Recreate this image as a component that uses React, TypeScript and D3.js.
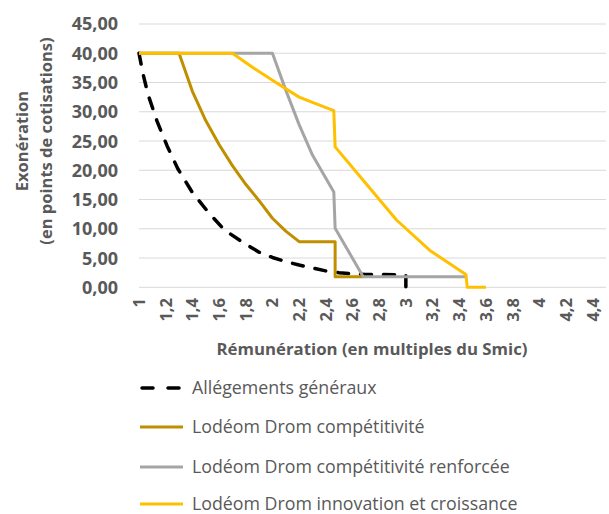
import React from "react";
import * as d3 from "d3";

// Salary in multiples of the Smic (x) and exemption in contribution points (y)
const generalX = [1.0, 1.03, 1.067, 1.135, 1.21, 1.29, 1.4, 1.52, 1.64, 1.77, 1.9, 2.0, 2.1, 2.2, 2.3, 2.4, 2.5, 2.6, 2.7, 2.8, 3.0, 3.0];
const generalY = [40, 36.5, 33.0, 28.4, 24.2, 20.3, 16.2, 12.8, 9.8, 7.8, 6.0, 5.1, 4.4, 3.8, 3.3, 2.8, 2.5, 2.3, 2.2, 2.2, 2.1, 0];

const competX = [1.0, 1.3, 1.4, 1.5, 1.6, 1.7, 1.8, 1.9, 2.0, 2.1, 2.2, 2.47, 2.47, 2.68];
const competY = [40, 40, 33.5, 28.5, 24.4, 20.8, 17.6, 14.8, 11.8, 9.6, 7.8, 7.8, 1.8, 1.8];

const renforceeX = [1.0, 2.0, 2.1, 2.2, 2.3, 2.46, 2.47, 2.68, 3.46];
const renforceeY = [40, 40, 33.7, 27.8, 22.6, 16.3, 10.1, 1.8, 1.8];

const innovationX = [1.0, 1.7, 1.85, 2.0, 2.2, 2.3, 2.46, 2.47, 2.68, 2.93, 3.18, 3.45, 3.46, 3.6];
const innovationY = [40, 40, 37.6, 35.4, 32.5, 31.6, 30.2, 24.0, 18.3, 11.5, 6.3, 2.2, 0, 0];

const yTicks = [0, 5, 10, 15, 20, 25, 30, 35, 40, 45];
const xTicks = [1, 1.2, 1.4, 1.6, 1.8, 2, 2.2, 2.4, 2.6, 2.8, 3, 3.2, 3.4, 3.6, 3.8, 4, 4.2, 4.4];

const seriesNames = [
  "Allégements généraux",
  "Lodéom Drom compétitivité",
  "Lodéom Drom compétitivité renforcée",
  "Lodéom Drom innovation et croissance",
];
const seriesColors = ["#000000", "#BF8F00", "#A5A5A5", "#FFC000"];

const W = 609;
const H = 514;
const FONT = "'Open Sans', 'Noto Sans', sans-serif";
const TEXT = "#595959";

export default function App() {
  const x = d3.scaleLinear().domain([1, 4.5]).range([139, 606]);
  const y = d3.scaleLinear().domain([0, 45]).range([287.3, 24]);

  const zip = (xs: number[], ys: number[]) => xs.map((v, i) => [v, ys[i]] as [number, number]);
  const line = d3
    .line<[number, number]>()
    .x((d) => x(d[0]))
    .y((d) => y(d[1]));

  const series = [
    zip(generalX, generalY),
    zip(competX, competY),
    zip(renforceeX, renforceeY),
    zip(innovationX, innovationY),
  ];

  const fmtY = (v: number) => d3.format(".2f")(v).replace(".", ",");
  const fmtX = (v: number) => String(+v.toFixed(1)).replace(".", ",");

  const legendY = [388, 427, 467, 504];

  return (
    <svg
      width={W}
      height={H}
      style={{ position: "absolute", left: 0, top: 0, background: "#fff" }}
      fontFamily={FONT}
    >
      {/* horizontal gridlines */}
      {yTicks.map((t) => (
        <line key={"g" + t} x1={139} x2={606} y1={y(t)} y2={y(t)} stroke="#D9D9D9" strokeWidth={1} />
      ))}

      {/* y tick labels */}
      {yTicks.map((t) => (
        <text
          key={"yl" + t}
          x={118}
          y={y(t)}
          dy="0.36em"
          textAnchor="end"
          fontSize={18}
          fontWeight={700}
          fill={TEXT}
        >
          {fmtY(t)}
        </text>
      ))}

      {/* x tick labels, rotated */}
      {xTicks.map((t) => (
        <text
          key={"xl" + t}
          transform={`translate(${x(t)},298) rotate(-90)`}
          dy="0.36em"
          textAnchor="end"
          fontSize={16.5}
          fontWeight={700}
          fill={TEXT}
        >
          {fmtX(t)}
        </text>
      ))}

      {/* axis titles */}
      <text
        transform="translate(35,141) rotate(-90)"
        textAnchor="middle"
        fontSize={16.5}
        fontWeight={700}
        fill={TEXT}
      >
        <tspan x={0} dy="-0.4em">Exonération</tspan>
        <tspan x={0} dy="1.45em">(en points de cotisations)</tspan>
      </text>
      <text x={372} y={355} textAnchor="middle" fontSize={16.8} fontWeight={700} fill={TEXT}>
        Rémunération (en multiples du Smic)
      </text>

      {/* series */}
      {series.map((pts, i) => (
        <path
          key={"s" + i}
          d={line(pts) || ""}
          fill="none"
          stroke={seriesColors[i]}
          strokeWidth={i === 0 ? 3.5 : 3}
          strokeDasharray={i === 0 ? "11 12" : undefined}
          strokeLinecap={i === 0 ? "round" : "butt"}
          strokeLinejoin="round"
        />
      ))}

      {/* legend */}
      {seriesNames.map((name, i) => (
        <g key={"lg" + i}>
          <line
            x1={i === 0 ? 142 : 140}
            x2={183}
            y1={legendY[i]}
            y2={legendY[i]}
            stroke={seriesColors[i]}
            strokeWidth={i === 0 ? 3.5 : 3}
            strokeDasharray={i === 0 ? "11 15" : undefined}
            strokeLinecap={i === 0 ? "round" : "butt"}
          />
          <text x={192} y={legendY[i]} dy="0.36em" fontSize={17.8} fill={TEXT}>
            {name}
          </text>
        </g>
      ))}
    </svg>
  );
}
